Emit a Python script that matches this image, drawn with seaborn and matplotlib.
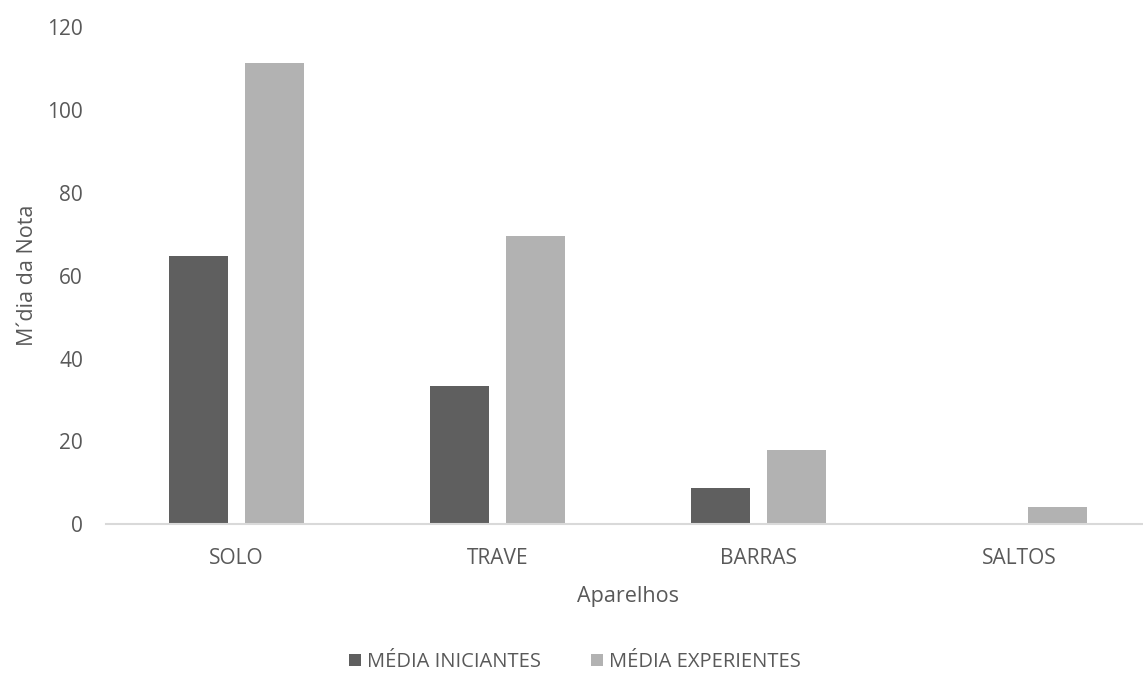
import matplotlib
matplotlib.use("Agg")
import matplotlib.pyplot as plt
import seaborn as sns
import pandas as pd
from matplotlib.patches import Patch

# Average scores per apparatus
aparelhos = ["SOLO", "TRAVE", "BARRAS", "SALTOS"]
media_iniciantes = [64.8, 33.4, 8.7, 0.0]
media_experientes = [111.3, 69.6, 17.9, 4.2]
series = ["MÉDIA INICIANTES", "MÉDIA EXPERIENTES"]
cores = ["#5f5f5f", "#b2b2b2"]
y_ticks = [0, 20, 40, 60, 80, 100, 120]

df = pd.DataFrame({
    "Aparelhos": aparelhos * 2,
    "Serie": [series[0]] * len(aparelhos) + [series[1]] * len(aparelhos),
    "Valor": media_iniciantes + media_experientes,
})

sns.set_theme(style="white")
plt.rcParams["font.family"] = ["Open Sans", "DejaVu Sans"]

texto = "#595959"
fig = plt.figure(figsize=(11.43, 6.75), dpi=100)
ax = fig.add_axes([106 / 1143, 1 - 524.3 / 675, 1044 / 1143, (524.3 - 27) / 675])

sns.barplot(data=df, x="Aparelhos", y="Valor", hue="Serie", order=aparelhos,
            hue_order=series, palette=cores, width=0.58, gap=0.228,
            linewidth=0, saturation=1, ax=ax, legend=False)

ax.set_ylim(0, 120)
ax.set_yticks(y_ticks)
ax.set_xlim(-0.5, len(aparelhos) - 0.5)

for s in ["top", "right", "left"]:
    ax.spines[s].set_visible(False)
ax.spines["bottom"].set_color("#d9d9d9")
ax.spines["bottom"].set_linewidth(1.5)

ax.tick_params(axis="both", length=0, labelsize=15, labelcolor=texto)
ax.tick_params(axis="y", pad=16.5)
ax.tick_params(axis="x", pad=17)

ax.set_ylabel("M´dia da Nota", fontsize=15.5, color=texto)
ax.set_xlabel("Aparelhos", fontsize=15.5, color=texto)
ax.yaxis.set_label_coords((38 - 106) / 1044, 0.5)
ax.xaxis.set_label_coords(0.5, (524.3 - 586) / 497.3)

handles = [Patch(facecolor=c, edgecolor="none") for c in cores]
fig.legend(handles, series, loc="center", bbox_to_anchor=(575 / 1143, 1 - 662 / 675),
           ncol=2, frameon=False, fontsize=14.5, labelcolor=texto,
           handlelength=0.6, handleheight=0.6, handletextpad=0.3, columnspacing=2.5)

fig.savefig("out.png", dpi=100, facecolor="white")
